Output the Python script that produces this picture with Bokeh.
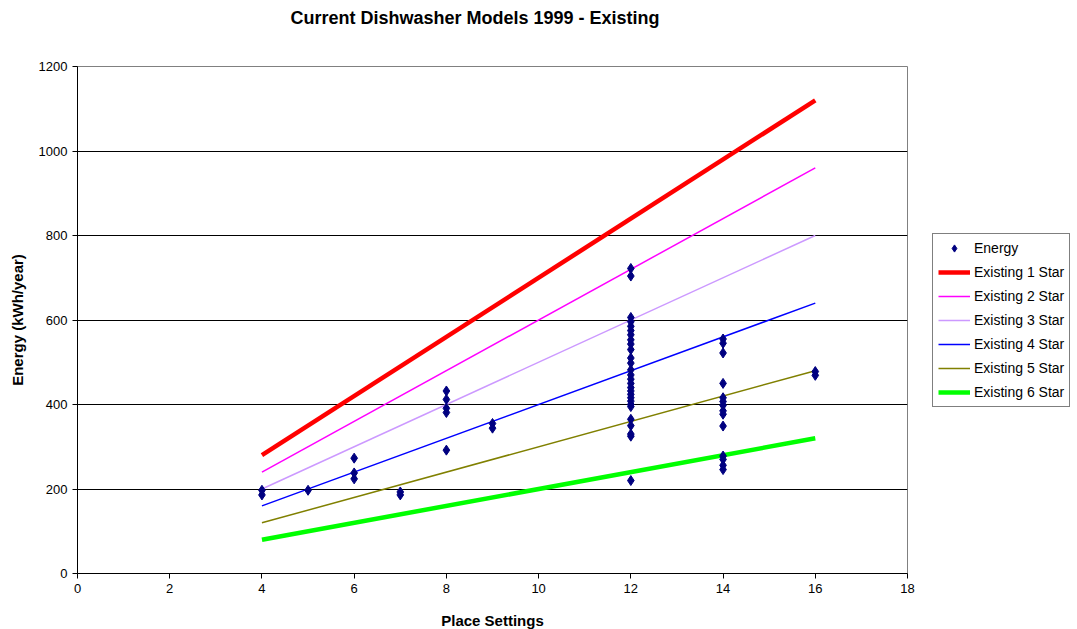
from bokeh.plotting import figure
from bokeh.models import Range1d, Legend, LegendItem, FixedTicker, ColumnDataSource, Title
from bokeh.embed import file_html
from bokeh.resources import INLINE

# Scatter data: place settings vs energy
place_settings = [4, 4, 5, 6, 6, 6, 7, 7, 8, 8, 8, 8, 8, 9, 9,
                  12, 12, 12, 12, 12, 12, 12, 12, 12, 12, 12, 12, 12, 12, 12, 12,
                  12, 12, 12, 12, 12, 12, 12, 12, 12, 12, 12, 12,
                  14, 14, 14, 14, 14, 14, 14, 14, 14, 14, 14, 14, 14, 14,
                  16, 16]
energy = [197, 186, 197, 273, 238, 224, 193, 186, 432, 412, 391, 381, 292, 355, 344,
          722, 704, 606, 596, 585, 575, 565, 553, 543, 530, 510, 498, 482, 470, 460, 450,
          440, 432, 424, 416, 408, 400, 395, 365, 350, 330, 325, 220,
          555, 545, 522, 450, 416, 407, 398, 385, 377, 349, 278, 270, 256, 246,
          478, 469]

# Star rating lines
line_x = [4, 16]
star_names = ["Existing 1 Star", "Existing 2 Star", "Existing 3 Star",
              "Existing 4 Star", "Existing 5 Star", "Existing 6 Star"]
star_values = [[280, 1120], [240, 960], [200, 800], [160, 640], [120, 480], [80, 320]]
star_colors = ["#FF0000", "#FF00FF", "#CC99FF", "#0000FF", "#808000", "#00FF00"]
star_widths = [4.5, 1.5, 1.5, 1.5, 1.5, 4.5]

x_ticks = [0, 2, 4, 6, 8, 10, 12, 14, 16, 18]
y_ticks = [0, 200, 400, 600, 800, 1000, 1200]

FONT = "Liberation Sans"

p = figure(output_backend="svg", toolbar_location=None,
           frame_width=830, frame_height=507,
           min_border_left=77, min_border_right=0, min_border_top=0, min_border_bottom=55,
           x_range=Range1d(0, 18), y_range=Range1d(0, 1200),
           title="Current Dishwasher Models 1999 - Existing")

p.title.align = "left"
p.title.offset = 213
p.title.text_font = FONT
p.title.text_font_size = "18px"
p.title.text_font_style = "bold"
p.title.text_color = "black"
p.title.vertical_align = "bottom"
p.title.standoff = 10

# spacer between the title and the plot area
spacer = Title(text=" ", text_font_size="1px", standoff=31)
p.add_layout(spacer, "above")

p.outline_line_color = "#808080"
p.outline_line_width = 1
p.background_fill_color = "white"
p.border_fill_color = "white"

p.xgrid.visible = False
p.ygrid.grid_line_color = "black"
p.ygrid.grid_line_width = 1
p.ygrid.ticker = FixedTicker(ticks=y_ticks)

for ax in (p.xaxis[0], p.yaxis[0]):
    ax.axis_line_color = "black"
    ax.major_tick_line_color = "black"
    ax.major_tick_in = 0
    ax.major_tick_out = 5
    ax.minor_tick_line_color = None
    ax.major_label_text_font = FONT
    ax.major_label_text_font_size = "13px"
    ax.major_label_text_color = "black"
    ax.axis_label_text_font = FONT
    ax.axis_label_text_font_size = "15px"
    ax.axis_label_text_font_style = "bold"
    ax.axis_label_text_color = "black"

p.xaxis[0].ticker = FixedTicker(ticks=x_ticks)
p.yaxis[0].ticker = FixedTicker(ticks=y_ticks)
p.xaxis[0].axis_label = "Place Settings"
p.yaxis[0].axis_label = "Energy (kWh/year)"
p.xaxis[0].axis_label_standoff = 16
p.yaxis[0].axis_label_standoff = 10

line_renderers = []
for name, vals, col, w in zip(star_names, star_values, star_colors, star_widths):
    r = p.line(x=line_x, y=vals, line_color=col, line_width=w)
    line_renderers.append((name, r))

src = ColumnDataSource(dict(x=place_settings, y=energy))
sc = p.scatter(x="x", y="y", source=src, marker="diamond", size=10,
               fill_color="#000080", line_color="#000080")

items = [LegendItem(label="Energy", renderers=[sc])]
for name, r in line_renderers:
    items.append(LegendItem(label=name, renderers=[r]))

legend = Legend(items=items, location="center_left")
legend.border_line_color = "black"
legend.border_line_width = 1
legend.background_fill_color = "white"
legend.label_text_font = FONT
legend.label_text_font_size = "14px"
legend.label_text_color = "black"
legend.label_height = 18
legend.glyph_width = 32
legend.glyph_height = 18
legend.spacing = 6
legend.padding = 5
legend.margin = 25
legend.label_standoff = 4
p.add_layout(legend, "right")

open("out.html", "w").write(file_html(p, INLINE))
